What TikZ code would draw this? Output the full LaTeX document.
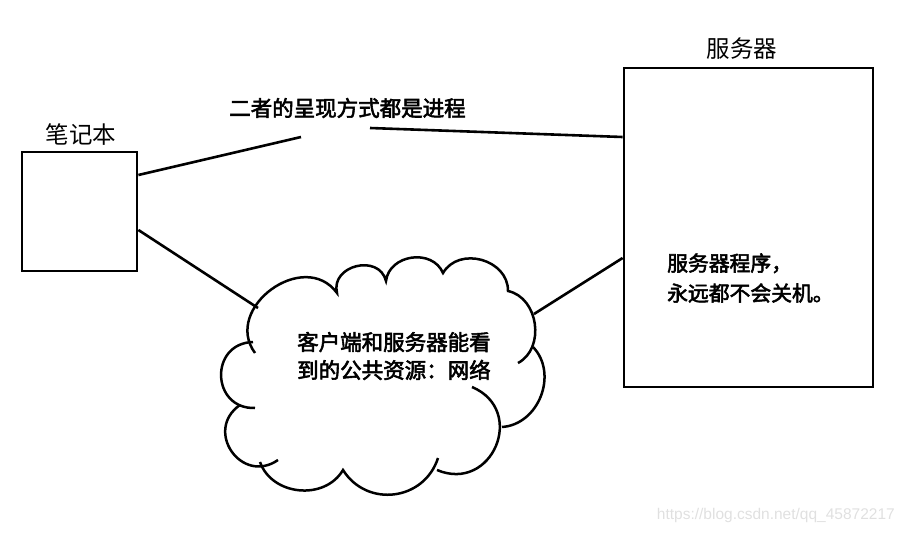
\documentclass[tikz,border=0pt]{standalone}
\usepackage{fontspec}
\newfontfamily\cjk{Noto Sans CJK SC}
\newfontfamily\cjkm{Noto Sans CJK SC}[FakeBold=2.6]
\setmainfont{Liberation Sans}
\begin{document}
\begin{tikzpicture}[x=1pt,y=-1pt,
  ln/.style={line width=2.6pt},
  cl/.style={line width=2.5pt},
  boxst/.style={draw,line width=2.8pt,inner sep=0pt},
  lbl/.style={inner sep=0pt,font=\cjk\fontsize{23.5}{28}\selectfont},
  txt/.style={inner sep=0pt,align=left,font=\cjkm\fontsize{21.5}{28}\selectfont},
  wm/.style={inner sep=0pt,text=black!12,font=\fontsize{15.5}{18}\selectfont}]
\useasboundingbox (0,0) rectangle (905,535);
% boxes
\node[boxst,minimum width=115pt,minimum height=119pt] (lap) at (79.5,211.5) {};
\node[boxst,minimum width=249pt,minimum height=319pt] (srv) at (748.5,227.5) {};
\node[lbl] (laplbl) at (81,135) {笔记本};
\node[lbl] (srvlbl) at (742,49) {服务器};
% top label and broken connector
\node[txt,anchor=west] (both) at (229,108) {二者的呈现方式都是进程};
\coordinate (g1) at (301,137);
\coordinate (g2) at (370,128);
\draw[ln] ([yshift=36.5pt]lap.east) -- (g1);
\draw[ln] (g2) -- ([yshift=90.5pt]srv.west);
% cloud
\coordinate (M) at (255,353);
\coordinate (M2) at (253,342);
\coordinate (B) at (337,293);
\coordinate (C) at (386,281);
\coordinate (D) at (443,273);
\coordinate (E) at (508,291);
\coordinate (F) at (518,363);
\coordinate (F2) at (533,347);
\coordinate (H) at (502,427);
\coordinate (H2) at (472,387);
\coordinate (I) at (437,470);
\coordinate (I2) at (438,458);
\coordinate (J) at (343,470);
\coordinate (K) at (260,462);
\coordinate (K2) at (278,460);
\coordinate (L2) at (240,405);
\coordinate (L) at (255,408);
\draw[cl]
  (M) to[bend left=90,looseness=1.4] (B)
      to[bend left=90,looseness=1.45] (C)
      to[bend left=75,looseness=1.2] (D)
      to[bend left=75,looseness=1.2] (E)
      to[bend left=70,looseness=1.1] (F);
\draw[cl] (F2) to[bend left=65,looseness=1.1] (H);
\draw[cl] (H2) to[bend left=90,looseness=1.7] (I);
\draw[cl] (I2) to[bend left=65,looseness=1.2] (J)
      to[bend left=65,looseness=1.1] (K);
\draw[cl] (K2) to[bend left=90,looseness=1.7] (L2);
\draw[cl] (L) to[bend left=90,looseness=1.7] (M2);
\coordinate (cln) at (258,308);
\coordinate (crn) at (534,314);
\node[txt,anchor=west] (ctext) at (297,356) {客户端和服务器能看\\到的公共资源：网络};
\draw[ln] ([yshift=-18.5pt]lap.east) -- (cln);
\draw[ln] (crn) -- ([yshift=-30.5pt]srv.west);
% server text
\node[txt,font=\cjkm\fontsize{20.8}{30}\selectfont,anchor=west] (stext) at (667,278) {服务器程序，\\永远都不会关机。};
% watermark
\node[wm,anchor=east] (wmark) at (895,515) {https://blog.csdn.net/qq\_45872217};
\end{tikzpicture}
\end{document}
